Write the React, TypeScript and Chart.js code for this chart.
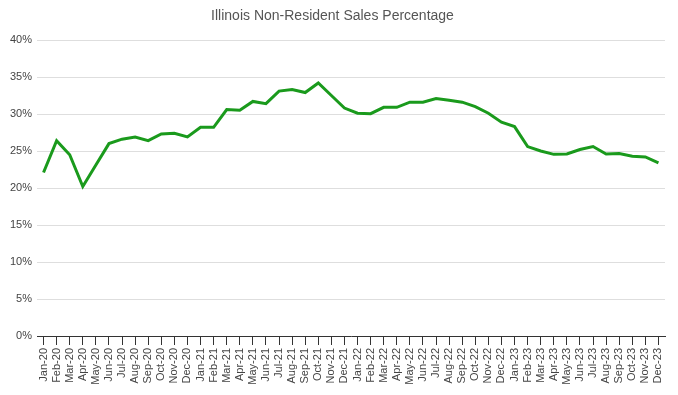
import React, { useEffect, useRef } from "react";
import { Chart, registerables } from "chart.js";

Chart.register(...registerables);

const months = ["Jan", "Feb", "Mar", "Apr", "May", "Jun", "Jul", "Aug", "Sep", "Oct", "Nov", "Dec"];
const years = ["20", "21", "22", "23"];
const categories: string[] = [];
for (const y of years) for (const m of months) categories.push(`${m}-${y}`);

const values2020 = [22.1, 26.4, 24.5, 20.2, 23.1, 26.0, 26.6, 26.9, 26.4, 27.3, 27.4, 26.9];
const values2021 = [28.2, 28.2, 30.6, 30.5, 31.7, 31.4, 33.1, 33.3, 32.9, 34.2, 32.5, 30.8];
const values2022 = [30.1, 30.05, 30.9, 30.9, 31.6, 31.6, 32.1, 31.85, 31.6, 31.0, 30.1, 28.9];
const values2023 = [28.3, 25.6, 25.0, 24.55, 24.6, 25.2, 25.6, 24.6, 24.65, 24.3, 24.2, 23.4];
const seriesValues = [...values2020, ...values2021, ...values2022, ...values2023];

const yTicks = [0, 5, 10, 15, 20, 25, 30, 35, 40];
const title = "Illinois Non-Resident Sales Percentage";
const FONT = "'Liberation Sans', Arial, sans-serif";

export default function App() {
  const ref = useRef<HTMLCanvasElement | null>(null);
  useEffect(() => {
    document.body.style.margin = "0";
    const ctx = ref.current!;
    const chart = new Chart(ctx, {
      type: "line",
      data: {
        labels: categories,
        datasets: [
          {
            data: seriesValues,
            borderColor: "#1a9a1c",
            borderWidth: 3,
            pointRadius: 0,
            tension: 0,
            fill: false,
          },
        ],
      },
      options: {
        animation: false,
        responsive: false,
        maintainAspectRatio: false,
        layout: { padding: { left: 0, right: 13, top: 0, bottom: 0 } },
        plugins: {
          legend: { display: false },
          tooltip: { enabled: false },
          title: {
            display: true,
            text: title,
            color: "#555",
            font: { family: FONT, size: 14, weight: "normal" },
            padding: { top: 8, bottom: 15.2 },
          },
        },
        scales: {
          x: {
            offset: true,
            grid: {
              display: true,
              drawOnChartArea: false,
              drawTicks: true,
              tickLength: 9,
              color: "#333",
              offset: false,
            },
            border: { display: true, color: "#333", width: 1 },
            ticks: {
              autoSkip: false,
              minRotation: 90,
              maxRotation: 90,
              padding: 3,
              color: "#444",
              font: { family: FONT, size: 11 },
            },
            afterFit: (scale: any) => {
              scale.height = 59;
            },
          },
          y: {
            min: 0,
            max: 40,
            afterBuildTicks: (scale: any) => {
              scale.ticks = yTicks.map((v) => ({ value: v }));
            },
            grid: { color: "#dedede", drawTicks: false, lineWidth: 1 },
            border: { display: false },
            ticks: {
              padding: 5,
              color: "#444",
              font: { family: FONT, size: 11 },
              callback: (v: any) => `${v}%`,
            },
            afterFit: (scale: any) => {
              scale.width = 37;
            },
          },
        },
      },
    });
    return () => chart.destroy();
  }, []);
  return (
    <div style={{ width: 678, height: 395, position: "relative", background: "#fff" }}>
      <canvas ref={ref} width={678} height={395} style={{ display: "block" }} />
    </div>
  );
}
